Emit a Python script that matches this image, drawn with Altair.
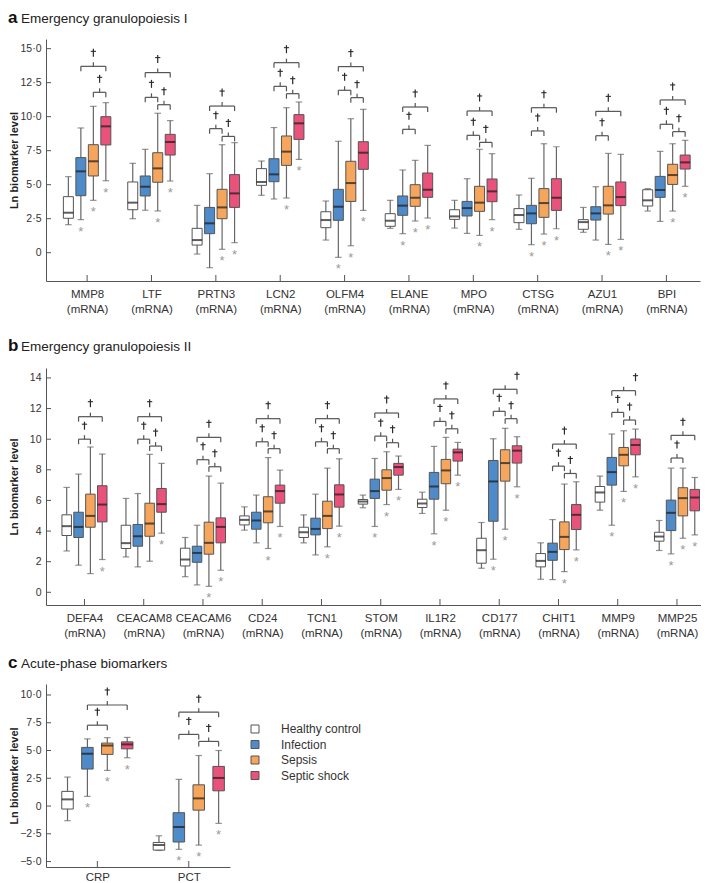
import altair as alt
import pandas as pd

GROUPS = ["Healthy control", "Infection", "Sepsis", "Septic shock"]
FILLS = ["#ffffff", "#4f8bc9", "#f6a55c", "#e8527b"]
FONT = "Liberation Sans"
AXIS_COLOR = "#555555"
TEXT_COLOR = "#333333"

# ---------------- Panel a: Emergency granulopoiesis I ----------------
A_NAMES = ["MMP8", "LTF", "PRTN3", "LCN2", "OLFM4", "ELANE", "MPO", "CTSG", "AZU1", "BPI"]
# each row: [Healthy control, Infection, Sepsis, Septic shock]
A_MIN = [[2.06, 2.43, 3.85, 5.29], [2.50, 3.12, 3.07, 5.27], [-0.10, -1.10, 0.25, 0.74],
         [4.22, 3.95, 4.02, 6.86], [0.93, -0.34, 0.51, 3.11], [1.79, 1.40, 2.33, 2.55],
         [1.81, 1.42, 1.27, 2.43], [1.72, 0.59, 1.37, 1.76], [1.50, 0.93, 0.61, 0.98],
         [3.06, 2.30, 3.06, 4.88]]
A_Q1 = [[2.53, 4.19, 5.64, 7.92], [3.16, 4.17, 5.18, 7.18], [0.56, 1.40, 2.50, 3.33],
        [4.95, 5.22, 6.42, 8.33], [1.84, 2.38, 3.77, 6.13], [1.94, 2.75, 3.41, 4.07],
        [2.45, 2.70, 3.04, 3.75], [2.21, 2.13, 2.60, 3.11], [1.72, 2.40, 2.84, 3.46],
        [3.43, 4.07, 5.02, 6.15]]
A_MED = [[2.94, 5.98, 6.72, 9.29], [3.68, 4.85, 6.20, 8.14], [0.93, 2.16, 3.33, 4.36],
         [5.20, 5.76, 7.43, 9.51], [2.40, 3.38, 5.12, 7.35], [2.35, 3.46, 4.04, 4.63],
         [2.67, 3.28, 3.68, 4.51], [2.77, 2.89, 3.65, 4.04], [2.25, 2.89, 3.48, 4.09],
         [3.85, 4.61, 5.71, 6.64]]
A_Q3 = [[4.12, 6.99, 7.94, 10.00], [5.20, 5.64, 7.35, 8.70], [1.79, 3.33, 4.66, 5.74],
        [6.18, 6.91, 8.58, 10.15], [3.01, 4.66, 6.72, 8.16], [2.87, 4.17, 5.00, 5.86],
        [3.16, 3.77, 4.88, 5.42], [3.24, 3.48, 4.71, 5.44], [2.43, 3.38, 4.88, 5.20],
        [4.63, 5.61, 6.50, 7.18]]
A_MAX = [[5.59, 9.17, 10.76, 11.03], [6.57, 7.60, 10.25, 9.71], [3.48, 5.81, 7.94, 8.09],
         [6.74, 9.20, 10.66, 11.08], [3.80, 8.19, 9.85, 10.54], [3.85, 6.08, 6.79, 7.89],
         [3.85, 5.44, 7.60, 7.28], [4.24, 5.47, 8.01, 7.79], [3.33, 4.85, 7.30, 7.23],
         [4.71, 7.45, 8.01, 8.26]]
A_STAR = [[0, 1, 1, 1], [0, 0, 1, 1], [0, 0, 1, 1], [0, 0, 1, 1], [0, 1, 1, 1],
          [0, 1, 1, 1], [0, 0, 1, 1], [0, 1, 1, 1], [0, 0, 1, 1], [0, 0, 1, 1]]
# (marker index, group 1, group 2, bracket level, dagger over right end)
A_BRACKETS = [(0, 1, 3, 13.70, 0), (0, 2, 3, 11.79, 0),
              (1, 1, 3, 13.24, 0), (1, 1, 2, 11.42, 0), (1, 2, 3, 10.88, 0),
              (2, 1, 3, 10.78, 0), (2, 1, 2, 9.12, 0), (2, 2, 3, 8.55, 0),
              (3, 1, 3, 13.97, 0), (3, 1, 2, 12.23, 0), (3, 2, 3, 11.69, 0),
              (4, 1, 3, 13.68, 0), (4, 1, 2, 11.94, 0), (4, 2, 3, 11.40, 0),
              (5, 1, 3, 10.71, 0), (5, 1, 2, 9.07, 0),
              (6, 1, 3, 10.42, 0), (6, 1, 2, 8.63, 0), (6, 2, 3, 8.11, 0),
              (7, 1, 3, 10.66, 0), (7, 1, 2, 8.95, 0),
              (8, 1, 3, 10.39, 0), (8, 1, 2, 8.60, 0),
              (9, 1, 3, 11.23, 0), (9, 1, 2, 9.44, 0), (9, 2, 3, 8.90, 0)]
A_YTICKS = [0, 2.5, 5, 7.5, 10, 12.5, 15]

# ---------------- Panel b: Emergency granulopoiesis II ----------------
B_NAMES = ["DEFA4", "CEACAM8", "CEACAM6", "CD24", "TCN1", "STOM", "IL1R2", "CD177",
           "CHIT1", "MMP9", "MMP25"]
B_MIN = [[2.70, 1.77, 1.22, 2.14], [2.31, 1.66, 2.03, 3.86], [1.02, 0.48, 0.39, 1.44],
         [4.06, 3.23, 2.86, 4.30], [3.23, 2.44, 2.97, 4.32], [5.52, 4.30, 5.73, 6.72],
         [5.15, 3.82, 5.36, 7.65], [1.57, 2.16, 4.12, 6.89], [0.85, 0.83, 1.35, 2.77],
         [5.36, 4.38, 6.59, 7.54], [2.73, 2.51, 3.53, 3.75]]
B_Q1 = [[3.71, 3.58, 4.25, 4.60], [2.86, 3.01, 3.66, 5.23], [1.72, 1.96, 2.49, 3.23],
        [4.40, 4.12, 4.54, 5.82], [3.58, 3.75, 4.16, 5.56], [5.76, 6.13, 6.67, 7.65],
        [5.54, 6.08, 7.09, 8.57], [1.90, 4.64, 7.26, 8.44], [1.66, 2.09, 2.79, 4.10],
        [5.89, 7.00, 8.26, 8.98], [3.34, 4.03, 4.99, 5.32]]
B_MED = [[4.32, 4.27, 4.99, 5.73], [3.21, 3.66, 4.49, 5.76], [2.14, 2.57, 3.23, 4.27],
         [4.73, 4.69, 5.28, 6.61], [3.92, 4.14, 4.99, 6.39], [5.93, 6.61, 7.46, 8.18],
         [5.80, 6.91, 7.96, 9.14], [2.75, 7.24, 8.44, 9.25], [2.05, 2.64, 3.62, 5.06],
         [6.52, 7.85, 8.98, 9.62], [3.64, 5.19, 6.15, 6.19]]
B_Q3 = [[5.06, 5.23, 6.41, 6.96], [4.38, 4.43, 5.82, 6.78], [2.88, 3.01, 4.58, 4.86],
        [4.99, 5.23, 6.24, 7.00], [4.25, 4.84, 5.95, 7.02], [6.06, 7.39, 8.00, 8.42],
        [6.08, 7.83, 8.68, 9.35], [3.53, 8.61, 9.31, 9.57], [2.53, 3.21, 4.60, 5.73],
        [6.91, 8.81, 9.46, 10.01], [3.92, 6.02, 6.83, 6.72]]
B_MAX = [[6.85, 7.72, 9.49, 9.03], [6.13, 6.45, 9.01, 8.42], [3.58, 4.38, 7.59, 7.13],
         [5.58, 6.35, 8.80, 7.98], [5.06, 6.41, 8.11, 8.72], [6.35, 8.74, 9.18, 8.90],
         [6.54, 9.53, 10.12, 9.79], [4.56, 10.03, 10.71, 10.16], [3.23, 4.75, 7.07, 7.22],
         [7.59, 10.34, 10.55, 10.66], [4.69, 8.11, 8.11, 7.50]]
B_STAR = [[0, 0, 0, 1], [0, 0, 0, 1], [0, 0, 1, 1], [0, 0, 1, 1], [0, 0, 1, 1],
          [0, 1, 1, 1], [0, 1, 1, 1], [0, 1, 1, 1], [0, 0, 1, 1], [0, 1, 1, 1], [0, 1, 1, 1]]
B_BRACKETS = [(0, 1, 3, 11.47, 0), (0, 1, 2, 10.00, 0),
              (1, 1, 3, 11.47, 0), (1, 1, 2, 10.00, 0), (1, 2, 3, 9.55, 0),
              (2, 1, 3, 10.12, 0), (2, 1, 2, 8.66, 0), (2, 2, 3, 8.20, 0),
              (3, 1, 3, 11.34, 0), (3, 1, 2, 9.83, 0), (3, 2, 3, 9.38, 0),
              (4, 1, 3, 11.34, 0), (4, 1, 2, 9.83, 0), (4, 2, 3, 9.38, 0),
              (5, 1, 3, 11.71, 0), (5, 1, 2, 10.20, 0), (5, 2, 3, 9.77, 0),
              (6, 1, 3, 12.63, 0), (6, 1, 2, 11.16, 0), (6, 2, 3, 10.68, 0),
              (7, 1, 3, 13.26, 1), (7, 1, 2, 11.82, 0), (7, 2, 3, 11.34, 0),
              (8, 1, 3, 9.68, 0), (8, 1, 2, 8.24, 0), (8, 2, 3, 7.76, 0),
              (9, 1, 3, 13.17, 1), (9, 1, 2, 11.75, 0), (9, 2, 3, 11.25, 0),
              (10, 1, 3, 10.25, 0), (10, 1, 2, 8.77, 0)]
B_YTICKS = [0, 2, 4, 6, 8, 10, 12, 14]

# ---------------- Panel c: Acute-phase biomarkers ----------------
C_NAMES = ["CRP", "PCT"]
C_MIN = [[-1.32, 0.87, 3.21, 4.35], [-4.00, -3.90, -3.52, -1.56]]
C_Q1 = [[-0.27, 3.33, 4.65, 5.15], [-3.97, -3.24, -0.37, 1.37]]
C_MED = [[0.60, 4.71, 5.45, 5.55], [-3.51, -1.89, 0.69, 2.53]]
C_Q3 = [[1.32, 5.28, 5.67, 5.78], [-3.28, -0.60, 1.91, 3.57]]
C_MAX = [[2.61, 6.05, 6.16, 6.18], [-2.68, 2.40, 4.55, 5.00]]
C_STAR = [[0, 1, 1, 1], [0, 1, 1, 1]]
C_BRACKETS = [(0, 1, 3, 9.10, 0), (0, 1, 2, 7.28, 0),
              (1, 1, 3, 8.45, 0), (1, 1, 2, 6.45, 0), (1, 2, 3, 5.82, 0)]
C_YTICKS = [-5, -2.5, 0, 2.5, 5, 7.5, 10]

DEC_EXPR = "datum.value == 0 ? '0' : replace(format(datum.value, '.1f'), '.', '\u00b7')"
INT_EXPR = "format(datum.value, 'd')"


def build_panel(letter, heading, names, two_line, mins, q1s, meds, q3s, maxs, stars,
                brackets, yticks, ylab, xdomain, ydomain, width, height, spacing, box_px,
                heading_y, label_pad, legend=None):
    rows = []
    for i, name in enumerate(names):
        for g in range(4):
            rows.append(dict(i=i, name=name, group=GROUPS[g],
                             x=i + (g - 1.5) * spacing,
                             lo=mins[i][g], q1=q1s[i][g], med=meds[i][g],
                             q3=q3s[i][g], hi=maxs[i][g], star=stars[i][g]))
    box = pd.DataFrame(rows)

    br_rows, end_rows = [], []
    for (i, g1, g2, h, right) in brackets:
        x1 = i + (g1 - 1.5) * spacing
        x2 = i + (g2 - 1.5) * spacing
        xm = (x1 + x2) / 2
        br_rows.append(dict(x1=x1, x2=x2, xm=xm, xd=x2 if right else xm, h=h))
        end_rows.append(dict(xe=x1, h=h))
        end_rows.append(dict(xe=x2, h=h))
    br = pd.DataFrame(br_rows)
    ends = pd.DataFrame(end_rows)

    xs = alt.Scale(domain=xdomain, nice=False, zero=False)
    ys = alt.Scale(domain=ydomain, nice=False, zero=False)

    if two_line:
        lab = "[" + ",".join("['%s','(mRNA)']" % n for n in names) + "][datum.value]"
    else:
        lab = "[" + ",".join("'%s'" % n for n in names) + "][datum.value]"

    xaxis = alt.Axis(values=list(range(len(names))), labelExpr=lab, title=None,
                     ticks=False, grid=False, labelPadding=label_pad,
                     labelFontSize=11.5, labelLineHeight=15, labelColor=TEXT_COLOR,
                     labelFont=FONT, domainColor=AXIS_COLOR, domainWidth=1)
    yaxis = alt.Axis(values=yticks, labelExpr=ylab, title="Ln biomarker level",
                     ticks=False, grid=False, labelPadding=5, labelFontSize=10.5,
                     labelColor=TEXT_COLOR, labelFont=FONT, domainColor=AXIS_COLOR,
                     domainWidth=1, titleFont=FONT, titleFontSize=11,
                     titleFontWeight="bold", titleColor="#222222", titleX=-38,
                     titleBaseline="top")

    def X(f):
        return alt.X(f, scale=xs, axis=xaxis)

    def Y(f):
        return alt.Y(f, scale=ys, axis=yaxis)

    base = alt.Chart(box)
    whisk = base.mark_rule(color="#666666", strokeWidth=1.2).encode(
        x=X("x:Q"), y=Y("lo:Q"), y2="hi:Q")
    cap_lo = base.mark_tick(orient="horizontal", size=6.5, thickness=1.2,
                            color="#666666").encode(x=X("x:Q"), y=Y("lo:Q"))
    cap_hi = base.mark_tick(orient="horizontal", size=6.5, thickness=1.2,
                            color="#666666").encode(x=X("x:Q"), y=Y("hi:Q"))
    fill_kw = dict(scale=alt.Scale(domain=GROUPS, range=FILLS))
    if legend is None:
        fill_kw["legend"] = None
    else:
        fill_kw["legend"] = legend
    boxes = base.mark_bar(size=box_px, stroke="#555555", strokeWidth=1).encode(
        x=X("x:Q"), y=Y("q1:Q"), y2="q3:Q", fill=alt.Fill("group:N", **fill_kw))
    med = base.mark_tick(orient="horizontal", size=box_px, thickness=2,
                         color="#1a1a1a").encode(x=X("x:Q"), y=Y("med:Q"))
    star = base.transform_filter("datum.star == 1").mark_text(
        text="*", dy=12, baseline="middle", fontSize=13, font=FONT,
        color="#9a9a9a").encode(x=X("x:Q"), y=Y("lo:Q"))

    bbase = alt.Chart(br)
    hline = bbase.mark_rule(color="#555555", strokeWidth=1.2).encode(
        x=X("x1:Q"), x2="x2:Q", y=Y("h:Q"))
    mtick = bbase.mark_rule(color="#555555", strokeWidth=1.2, y2Offset=-4).encode(
        x=X("xm:Q"), y=Y("h:Q"), y2="h:Q")
    etick = alt.Chart(ends).mark_rule(color="#555555", strokeWidth=1.2,
                                      y2Offset=5).encode(
        x=X("xe:Q"), y=Y("h:Q"), y2="h:Q")
    # dagger symbol (stem + crossbar) above each bracket
    dag_stem = bbase.mark_rule(color="#2a2a2a", strokeWidth=1.2, yOffset=-17.5,
                               y2Offset=-9.5).encode(
        x=X("xd:Q"), y=Y("h:Q"), y2="h:Q")
    dag_bar = bbase.mark_rule(color="#2a2a2a", strokeWidth=1.1, xOffset=-2.6,
                              x2Offset=2.6, yOffset=-15).encode(
        x=X("xd:Q"), x2="xd:Q", y=Y("h:Q"))

    ytk = alt.Chart(pd.DataFrame({"v": yticks})).mark_rule(
        color=AXIS_COLOR, strokeWidth=1).encode(
        y=Y("v:Q"), x=alt.value(0), x2=alt.value(5))
    xtk = alt.Chart(pd.DataFrame({"t": list(range(len(names)))})).mark_rule(
        color=AXIS_COLOR, strokeWidth=1).encode(
        x=X("t:Q"), y=alt.value(height), y2=alt.value(height - 6))

    one = alt.Chart(pd.DataFrame({"k": [0]}))
    let = one.mark_text(text=letter, fontSize=17, fontWeight="bold", font=FONT,
                        align="left", baseline="alphabetic", color="#111111").encode(
        x=alt.value(-38), y=alt.value(heading_y))
    head = one.mark_text(text=heading, fontSize=13.5, font=FONT, align="left",
                         baseline="alphabetic", color="#222222").encode(
        x=alt.value(-25), y=alt.value(heading_y))

    return alt.layer(whisk, boxes, med, cap_lo, cap_hi, star, hline, mtick, etick,
                     dag_stem, dag_bar, ytk, xtk, let, head).properties(
        width=width, height=height)


panel_a = build_panel("a", "Emergency granulopoiesis I", A_NAMES, True, A_MIN, A_Q1,
                      A_MED, A_Q3, A_MAX, A_STAR, A_BRACKETS, A_YTICKS, DEC_EXPR,
                      [-0.561, 9.444], [-2.08, 15.71], 654, 242, 0.194, 10, -16.4, 7)
panel_b = build_panel("b", "Emergency granulopoiesis II", B_NAMES, True, B_MIN, B_Q1,
                      B_MED, B_Q3, B_MAX, B_STAR, B_BRACKETS, B_YTICKS, INT_EXPR,
                      [-0.565, 10.321], [-0.83, 14.65], 655, 237, 0.2, 9.5, -17, 7)
legend_c = alt.Legend(title=None, orient="none", legendX=203, legendY=39,
                      symbolType="square", symbolSize=64, symbolStrokeColor="#555555",
                      symbolStrokeWidth=1, labelFontSize=12, labelFont=FONT,
                      labelColor="#333333", labelOffset=20, rowPadding=3.5)
panel_c = build_panel("c", "Acute-phase biomarkers", C_NAMES, False, C_MIN, C_Q1,
                      C_MED, C_Q3, C_MAX, C_STAR, C_BRACKETS, C_YTICKS, DEC_EXPR,
                      [-0.507, 1.396], [-5.49, 10.99], 184, 183, 0.2176, 11.5, -16, 4,
                      legend=legend_c)

top = alt.vconcat(panel_a, panel_b, spacing=22).resolve_scale(
    x="independent", y="independent", fill="independent")
chart = alt.vconcat(top, panel_c, spacing=15).resolve_scale(
    x="independent", y="independent", fill="independent").properties(
    padding=0).configure_view(stroke=None)

chart.save("out.html", embed_options={"renderer": "svg", "actions": False})
